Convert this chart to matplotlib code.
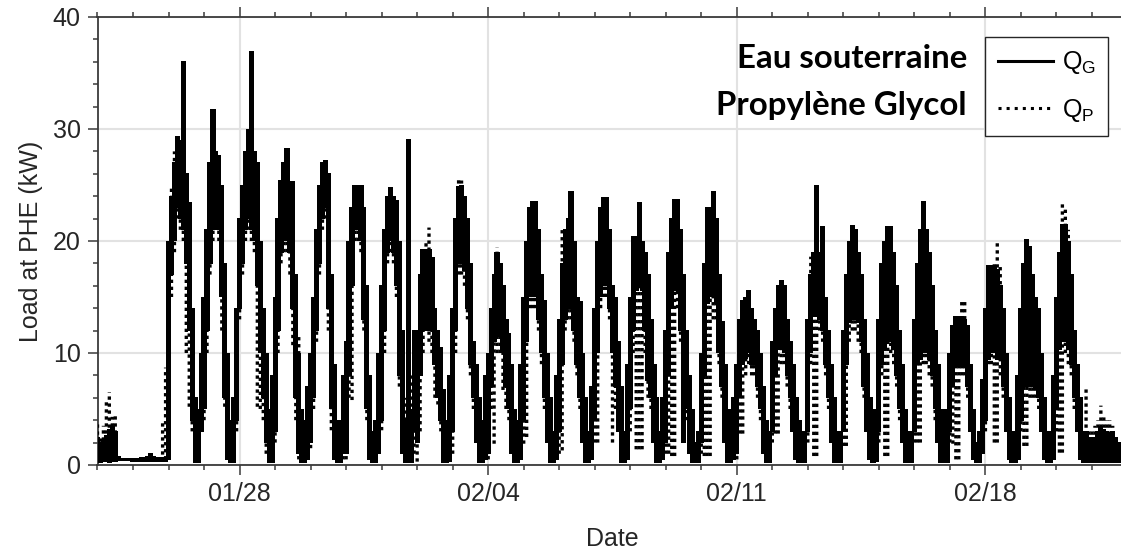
import numpy as np
import matplotlib
matplotlib.use("Agg")
import matplotlib.pyplot as plt
import matplotlib.dates as mdates
from matplotlib.lines import Line2D
from matplotlib.ticker import MultipleLocator

# ---------------- data ----------------
# The logged loads oscillate quickly; each 2-hour bin is stored as the
# minimum / maximum load read off the chart (12 bins per day, from 2019-01-24).
start_time = np.datetime64("2019-01-24T00:00")
bin_hours = 2

# Q_G (groundwater side, solid) : bin minimum
qg_lo = [
    [0.2, 0.2, 0.3, 0.3, 0.2, 0.3, 0.3, 0.4, 0.4, 0.4, 0.4, 0.4],   # 01/24
    [0.3, 0.3, 0.3, 0.3, 0.3, 0.3, 0.3, 0.3, 0.3, 0.3, 0.3, 0.3],   # 01/25
    [0.5, 17, 20, 23, 22, 21, 18, 12, 4, 0.2, 0.2, 3],              # 01/26
    [5, 12, 18, 21, 22, 21, 15, 6, 0.5, 0.2, 0.2, 4],               # 01/27
    [14, 18, 21, 22, 21, 20, 16, 10, 6, 2, 0.2, 0.2],               # 01/28
    [3, 12, 19, 20, 20, 19, 14, 6, 1, 0.2, 0.2, 0.5],               # 01/29
    [2, 6, 12, 18, 22, 23, 14, 5, 0.5, 0.2, 0.2, 1],                # 01/30
    [1, 8, 16, 21, 21, 20, 13, 5, 0.5, 0.2, 0.2, 1],                # 01/31
    [4, 12, 19, 20, 19, 16, 8, 1, 0.2, 0.2, 0.2, 3],                # 02/01
    [2, 8, 12, 13, 12, 12, 9, 6, 4, 0.2, 0.2, 0.3],                 # 02/02
    [3, 12, 18, 18, 17.4, 14, 9, 6, 2, 0.2, 0.2, 0.5],              # 02/03
    [1, 7, 11, 12, 11.5, 10, 7, 5, 1, 0.2, 0.2, 0.5],               # 02/04
    [4, 11, 15, 15, 15, 13, 10, 6, 2, 0.2, 0.2, 0.5],               # 02/05
    [3, 9, 13, 14, 14.7, 12, 9, 6, 2, 0.2, 0.2, 0.5],               # 02/06
    [4, 10, 15, 16, 16, 14, 10, 7, 3, 0.2, 0.2, 0.5],               # 02/07
    [5, 12, 15.6, 16, 15.6, 12, 7.5, 6, 2, 0.2, 0.2, 0.5],          # 02/08
    [2, 8, 14, 15.6, 15.6, 12, 2, 5, 1, 0.2, 0.2, 0.2],             # 02/09
    [2, 8, 14.4, 15, 15, 14.4, 10, 7, 2, 0.2, 0.2, 0.5],            # 02/10
    [1, 6, 9, 9.5, 10, 9, 9, 7, 5, 1, 0.2, 0.2],                    # 02/11
    [3, 8, 10.3, 10.3, 10, 8, 6, 3, 0.5, 0.2, 0.2, 0.2],            # 02/12
    [3, 10, 13.3, 13.3, 13, 12, 9, 6, 2, 0.2, 0.2, 0.2],            # 02/13
    [3, 9, 12.7, 13, 13, 12.7, 11, 7, 3, 0.5, 0.2, 0.3],            # 02/14
    [3, 9, 10.3, 11, 11, 10.3, 8, 5, 2, 0.2, 0.2, 0.2],             # 02/15
    [3, 9, 9.4, 10, 10, 9.4, 8, 5, 2, 0.2, 0.2, 0.2],               # 02/16
    [3, 7, 8.8, 8.8, 8.8, 8.8, 7, 3, 0.5, 0.2, 0.2, 1],             # 02/17
    [4, 9.4, 10, 10, 9.4, 9.4, 7, 3, 0.5, 0.2, 0.2, 0.5],           # 02/18
    [4, 7, 7, 7, 7, 6.7, 6, 3, 0.5, 0.2, 0.2, 0.5],                 # 02/19
    [5, 10.3, 11, 11, 10.3, 9, 6, 3, 0.5, 0.2, 0.2, 0.2],           # 02/20
    [0.2, 0.2, 0.2, 0.2, 0.2, 0.2, 0.2, 0.2, 0.2, 0.2, 0.2, 0.2],   # 02/21
]
# Q_G : bin maximum
qg_hi = [
    [2.5, 2.0, 2.2, 2.6, 3.2, 3.4, 3.0, 0.8, 0.6, 0.6, 0.6, 0.6],
    [0.6, 0.6, 0.6, 0.7, 0.7, 0.8, 1.0, 0.8, 0.7, 0.7, 0.7, 0.7],
    [20, 24, 27, 29.3, 29, 36, 26, 23.4, 14, 6, 5, 10],
    [15, 21, 27, 31.7, 28, 27.6, 25, 18, 10, 4, 6, 14],
    [22, 25, 28, 30, 36.9, 28, 27, 20, 14, 10, 5, 8],
    [15, 22, 25.4, 27, 28.3, 25, 25.3, 17, 10, 5, 4, 7],
    [10, 15, 21, 25, 27, 27.2, 26, 17, 9, 4, 4, 8],
    [11, 20, 23, 25, 24.8, 25, 23, 16, 8, 3, 4, 10],
    [16, 21, 24, 24.8, 24, 23.6, 20, 12, 4, 29.1, 5, 12],
    [12, 17, 19.2, 19, 19.2, 18.5, 14, 12, 10.5, 6.7, 4, 8],
    [14, 22, 24.9, 25, 24, 22, 18, 11, 9, 6, 4, 8],
    [10, 14, 17, 19, 18, 16, 13, 11.7, 9, 5, 4, 9],
    [15, 20, 23, 23.5, 23.5, 21, 17, 14.7, 10, 6, 3, 8],
    [13, 18, 21, 22, 24.4, 20, 15, 14.6, 10, 6, 3, 7],
    [14, 20, 23, 23.9, 23.9, 21, 16, 15, 11, 7, 3, 9],
    [15, 20.4, 20.4, 23.4, 20, 19, 17, 13, 9, 6, 3, 6],
    [12, 19, 22, 23.7, 23.7, 21, 17, 12, 8, 5, 2, 3],
    [10, 18, 23, 23, 24.4, 22, 17, 12.8, 9, 5, 3, 6],
    [9, 13, 14.7, 15, 15.6, 14, 13, 12, 10, 7, 4, 3],
    [11, 14, 16, 16.5, 16, 13, 11, 9, 6, 4, 2, 3],
    [13, 17, 19, 25, 19, 21.3, 15, 12, 9, 6, 3, 3],
    [12, 17, 20, 21.4, 21, 19, 17, 13, 10, 6, 3, 5],
    [13, 18, 20, 21.3, 21.3, 19, 16, 12, 9, 5, 3, 3],
    [13, 18, 21, 23.5, 21, 19, 16, 12, 9, 5, 3, 5],
    [10, 12.5, 13.3, 13.3, 13.3, 13, 12.5, 9, 5, 2, 3, 7.6],
    [14, 17.8, 17.8, 17.8, 17.5, 16, 14, 10, 6, 3, 3, 8],
    [14, 18, 20.1, 19.5, 17, 15, 14, 10, 6, 3, 3, 8],
    [15, 19, 21.5, 21.5, 20, 17, 12, 9, 6, 3, 3, 2.5],
    [2.0, 2.5, 3.0, 3.4, 3.2, 3.0, 2.8, 3.0, 2.5, 2.0, 1.5, 1.0],
]
# Q_P (propylene glycol side, dotted) : bin minimum
qp_lo = [
    [0.2, 0.2, 0.3, 0.3, 0.2, 0.3, 0.3, 0.4, 0.4, 0.4, 0.4, 0.4],
    [0.3, 0.3, 0.3, 0.3, 0.3, 0.3, 0.3, 0.3, 0.3, 0.3, 0.3, 0.5],
    [2, 15, 19, 22, 21, 20, 10, 5.2, 3, 0.2, 0.2, 3],
    [4, 10, 17, 20, 21, 20, 12, 5.2, 0.5, 0.2, 0.2, 3],
    [13, 17, 20, 21, 20, 19, 5.2, 5, 4, 1, 0.2, 0.2],
    [2, 10, 18, 19, 19, 17, 10.7, 4, 0.5, 0.2, 0.2, 0.5],
    [1.5, 5, 11, 17, 21, 22, 12, 3.1, 0.5, 0.2, 0.2, 0.5],
    [0.5, 6, 5.8, 20, 20, 19, 12, 4, 0.5, 0.2, 0.2, 1],
    [3.1, 10, 18, 19, 18, 15, 7, 1, 0.2, 0.2, 0.2, 1],
    [0.3, 3, 10, 12, 11, 10, 6, 5.4, 3, 0.2, 0.2, 0.3],
    [1, 10, 17, 17, 16, 13, 8, 5, 2, 0.2, 0.2, 0.5],
    [0.5, 5, 1.9, 10, 10, 6.7, 5, 4, 1, 0.2, 0.2, 0.5],
    [1.9, 2.5, 14, 14, 14, 12, 9, 5, 2, 0.2, 0.2, 0.5],
    [1, 1.3, 12, 13, 13, 11, 8, 5, 2, 0.2, 0.2, 0.5],
    [2, 2, 14, 15, 15, 13, 2, 5, 3, 0.2, 0.2, 0.5],
    [3, 10, 1.4, 1.4, 1.4, 10, 6, 5, 2, 0.2, 0.2, 0.5],
    [1, 1, 0.8, 0.8, 14, 11, 4, 4, 1, 0.2, 0.2, 0.2],
    [1, 0.8, 0.8, 0.8, 13, 13, 9, 6, 2, 0.2, 0.2, 0.5],
    [0.5, 2.8, 2.8, 8, 9, 8, 8, 6, 4, 1, 0.2, 0.2],
    [2, 2.8, 2.8, 9, 9, 7, 5, 3, 0.5, 0.2, 0.2, 0.2],
    [2, 9, 0.8, 0.8, 12, 11, 8, 5, 2, 0.2, 0.2, 0.2],
    [1.7, 1.7, 11, 12, 12, 11, 10, 6, 3, 0.5, 0.2, 0.3],
    [2, 8, 0.8, 0.8, 10, 9, 7, 4, 2, 0.2, 0.2, 0.2],
    [2, 2, 2, 9, 9, 8, 7, 4, 2, 0.2, 0.2, 0.2],
    [2, 1.9, 0.5, 0.5, 8, 8, 6, 3, 0.5, 0.2, 0.2, 1],
    [3, 9, 9, 2, 2, 8, 6, 3, 0.5, 0.2, 0.2, 0.5],
    [3, 1.7, 1.7, 6, 6, 6, 5, 3, 0.5, 0.2, 0.2, 0.5],
    [3, 1.1, 1.1, 10, 9, 8, 5, 3, 0.5, 0.2, 0.2, 0.2],
    [0.2, 0.2, 0.2, 0.2, 0.2, 0.2, 0.2, 0.2, 0.2, 0.2, 0.2, 0.2],
]
# Q_P : bin maximum
qp_hi = [
    [3.8, 2.5, 3.5, 5.8, 6.5, 4.3, 4.6, 0.9, 0.6, 0.6, 0.6, 0.6],
    [0.6, 0.6, 0.6, 0.7, 0.7, 0.8, 1.0, 0.8, 0.7, 0.7, 4.0, 8.7],
    [20, 25, 28, 29.5, 27, 27, 25, 22, 13, 6, 5, 10],
    [15, 21, 27, 29, 28, 27, 25, 18, 10, 4, 6, 14],
    [22, 25, 27, 29.5, 28, 27, 26, 19, 14, 10, 5, 8],
    [15, 22, 25, 26.5, 27.5, 25, 24, 17, 11.7, 5, 4, 7],
    [10, 15, 21, 25, 26.5, 27, 26, 17, 9, 4, 4, 8],
    [11, 20, 22, 24.5, 24.5, 24.5, 23, 16, 8, 3, 4, 10],
    [16, 21, 24, 24.5, 24, 23, 20, 12, 6, 10, 8, 12],
    [12, 17, 19, 20, 21.2, 18.5, 14, 12, 10.5, 6.7, 4, 8],
    [14, 22, 25.6, 25.4, 24, 22, 18, 11, 9, 6, 4, 8],
    [10, 14, 17, 19.4, 18, 16, 13, 11.7, 9, 5, 4, 9],
    [15, 20, 23, 23.5, 23, 21, 17, 14.7, 10, 6, 3, 8],
    [13, 21, 21, 21, 20, 19, 15, 14, 10, 6, 3, 7],
    [14, 20, 23, 23.5, 23.9, 21, 16, 15, 11, 7, 3, 9],
    [15, 20, 20, 21, 20, 19, 17, 13, 9, 6, 3, 6],
    [12, 19, 22, 23.5, 23, 21, 17, 12, 8, 5, 2, 3],
    [10, 18, 22, 23, 22, 21, 17, 12.8, 9, 5, 3, 6],
    [9, 13, 14, 15, 15, 14, 13, 12, 10, 7, 4, 3],
    [11, 14, 15.5, 16, 16, 13, 11, 9, 6, 4, 2, 3],
    [13, 18.6, 18, 18, 18.5, 19, 15, 12, 9, 6, 3, 3],
    [12, 17, 20, 21, 21, 19, 17, 13, 10, 6, 3, 5],
    [13, 18, 20, 21, 21, 19, 16, 12, 9, 5, 3, 3],
    [13, 18, 20, 22, 21, 19, 16, 12, 9, 5, 3, 5],
    [10, 12.5, 13, 13, 14.6, 14.6, 12.5, 9, 5, 2, 3, 7.6],
    [14, 17.5, 17.8, 18, 20.1, 18, 14, 10, 6, 3, 3, 8],
    [14, 18, 20.1, 19.5, 17, 15, 14, 10, 6, 3, 3, 8],
    [15, 19, 23.5, 23, 21, 17, 12, 9, 6, 3, 6.9, 3],
    [3.0, 3.5, 4.0, 5.3, 4.5, 4.0, 4.0, 3.5, 2.5, 2.0, 1.5, 1.0],
]

series_labels = [r"Q$_\mathregular{G}$", r"Q$_\mathregular{P}$"]
fluid_labels = ["Eau souterraine", "Propylène Glycol"]
x_label = "Date"
y_label = "Load at PHE (kW)"
x_limits = (np.datetime64("2019-01-24"), np.datetime64("2019-02-22"))
y_limits = (0, 40)
y_major_ticks = [0, 10, 20, 30, 40]


def flat(rows):
    return np.concatenate([np.asarray(r, float) for r in rows])


QG_lo, QG_hi, QP_lo, QP_hi = flat(qg_lo), flat(qg_hi), flat(qp_lo), flat(qp_hi)
times = start_time + np.arange(QG_lo.size) * np.timedelta64(bin_hours, "h")

# ---------------- figure ----------------
W, H = 1121, 551
plt.rcParams["font.family"] = ["Liberation Sans", "DejaVu Sans"]
plt.rcParams["mathtext.fontset"] = "custom"
plt.rcParams["mathtext.rm"] = "Liberation Sans"
plt.rcParams["mathtext.it"] = "Liberation Sans:italic"
plt.rcParams["mathtext.bf"] = "Liberation Sans:bold"

fig = plt.figure(figsize=(W / 100, H / 100), dpi=100)
ax_left, ax_right, ax_top, ax_bottom = 97.5, 1127.5, 17, 465
ax = fig.add_axes([ax_left / W, 1 - ax_bottom / H,
                   (ax_right - ax_left) / W, (ax_bottom - ax_top) / H])

ink = "#262626"
lc_g = ax.vlines(times, QG_lo, QG_hi, colors="black", linewidth=3.0,
                 linestyles="solid", capstyle="butt", zorder=3)
lc_p = ax.vlines(times, QP_lo, QP_hi, colors="black", linewidth=2.4,
                 linestyles=[(0, (1.0, 1.1))], capstyle="butt", zorder=4)
lc_g.set_snap(False)
lc_g.set_antialiased(False)
lc_p.set_snap(False)

ax.set_xlim(*x_limits)
ax.set_ylim(*y_limits)
ax.set_yticks(y_major_ticks)
ax.yaxis.set_minor_locator(MultipleLocator(2))
ax.xaxis.set_major_locator(mdates.WeekdayLocator(byweekday=mdates.MO))
ax.xaxis.set_minor_locator(mdates.DayLocator())
ax.xaxis.set_major_formatter(mdates.DateFormatter("%m/%d"))

ax.grid(True, which="major", color="#e2e2e2", lw=1.5)
ax.set_axisbelow(True)

for s in ax.spines.values():
    s.set_color("#3a3a3a")
    s.set_linewidth(1.3)
ax.spines["right"].set_visible(False)

ax.tick_params(which="both", direction="out", colors="#3a3a3a",
               labelcolor=ink, labelsize=18, top=True, width=1.1)
ax.tick_params(which="major", length=7.2, pad=5)
ax.tick_params(which="minor", length=3.6)
ax.tick_params(axis="x", which="both", labeltop=False)

ax.set_xlabel(x_label, fontsize=18, color=ink, labelpad=15)
ax.set_ylabel(y_label, fontsize=18, color=ink, labelpad=7)

handles = [Line2D([], [], color="black", lw=2.2, ls="-"),
           Line2D([], [], color="black", lw=2.2, ls=":")]
leg = ax.legend(handles, series_labels, loc="upper right",
                bbox_to_anchor=(1108 / W, 1 - 37 / H), bbox_transform=fig.transFigure,
                borderaxespad=0, fancybox=False, framealpha=1, edgecolor="#262626",
                fontsize=18, handlelength=2.2, handletextpad=0.35,
                borderpad=0.5, labelspacing=0.8)
leg.get_frame().set_linewidth(1.0)
leg.set_zorder(10)

# fluid names to the left of the legend
fluid_font = ["Lato", "DejaVu Sans"]
txts = []
for lab, base_y in zip(fluid_labels, (68, 115)):
    t = fig.text(967 / W, 1 - base_y / H, lab, ha="right", va="baseline",
                 fontsize=22, fontweight="bold", family=fluid_font, color="black")
    txts.append(t)
fig.canvas.draw()
r = fig.canvas.get_renderer()
wid = txts[1].get_window_extent(r).width
new_size = 22 * 250 / wid
for t in txts:
    t.set_fontsize(new_size)

fig.savefig("out.png", dpi=100)
